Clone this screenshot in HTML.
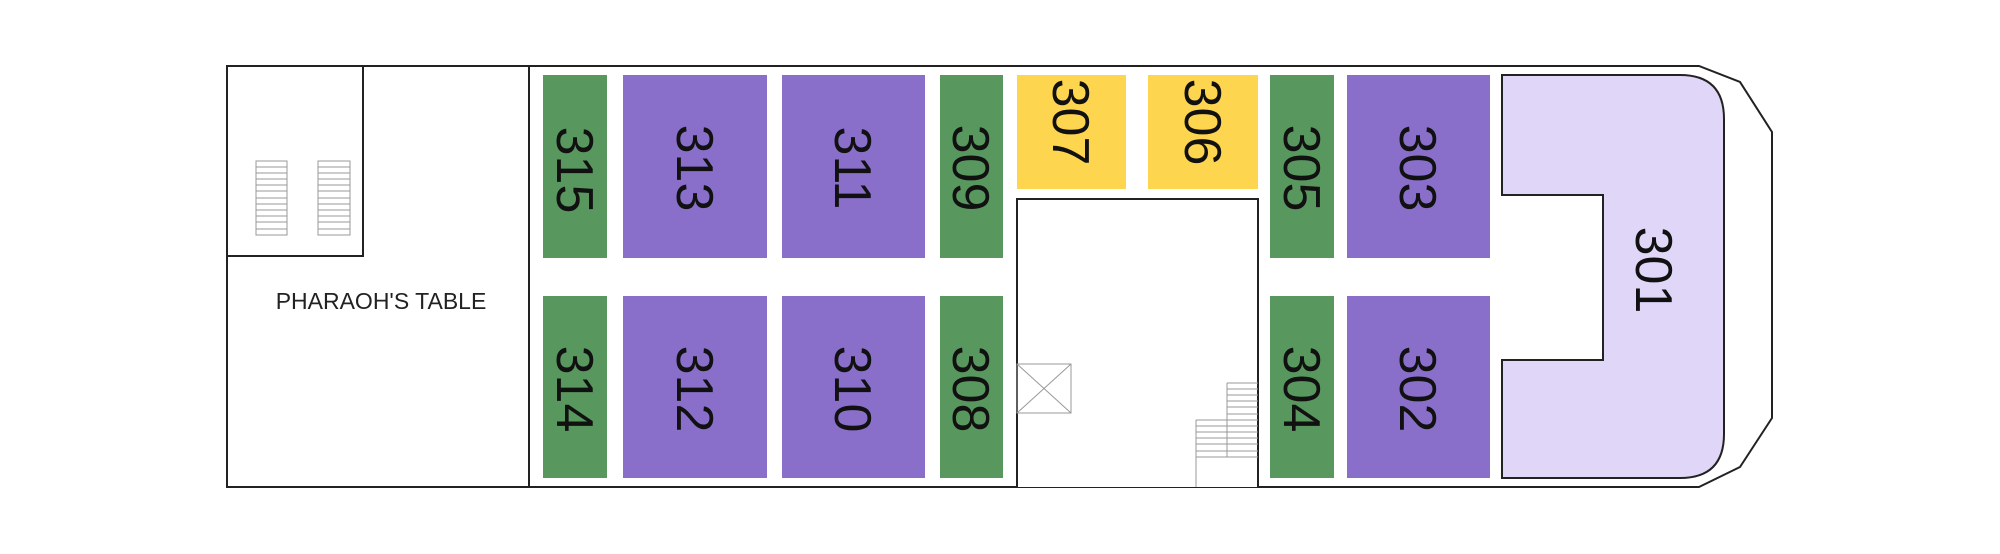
<!DOCTYPE html>
<html><head><meta charset="utf-8"><style>html,body{margin:0;padding:0;background:#fff}svg{display:block}</style></head>
<body>
<svg width="2000" height="554" viewBox="0 0 2000 554" xmlns="http://www.w3.org/2000/svg" font-family="Liberation Sans, sans-serif">
<rect width="2000" height="554" fill="#fff"/>
<path d="M227,66 H1699 L1740,82 L1772,132 V418 L1740,467 L1699,487 H227 Z" fill="#fff" stroke="#222" stroke-width="2"/>
<line x1="529" y1="66" x2="529" y2="487" stroke="#222" stroke-width="2"/>
<rect x="227" y="66" width="136" height="190" fill="none" stroke="#222" stroke-width="2"/>
<g stroke="#999" stroke-width="1" fill="none">
<rect x="256" y="161" width="31" height="74"/>
<rect x="318" y="161" width="32" height="74"/>
<path d="M256,167H287M256,173H287M256,179H287M256,185H287M256,191H287M256,198H287M256,204H287M256,210H287M256,216H287M256,222H287M256,229H287"/>
<path d="M318,167H350M318,173H350M318,179H350M318,185H350M318,191H350M318,198H350M318,204H350M318,210H350M318,216H350M318,222H350M318,229H350"/>
</g>
<text x="381" y="309" font-size="23" text-anchor="middle" fill="#222">PHARAOH'S TABLE</text>
<g>
<rect x="543" y="75" width="64" height="183" fill="#58975e"/>
<rect x="623" y="75" width="144" height="183" fill="#8a6fca"/>
<rect x="782" y="75" width="143" height="183" fill="#8a6fca"/>
<rect x="940" y="75" width="63" height="183" fill="#58975e"/>
<rect x="1017" y="75" width="109" height="114" fill="#fdd54e"/>
<rect x="1148" y="75" width="110" height="114" fill="#fdd54e"/>
<rect x="1270" y="75" width="64" height="183" fill="#58975e"/>
<rect x="1347" y="75" width="143" height="183" fill="#8a6fca"/>
<rect x="543" y="296" width="64" height="182" fill="#58975e"/>
<rect x="623" y="296" width="144" height="182" fill="#8a6fca"/>
<rect x="782" y="296" width="143" height="182" fill="#8a6fca"/>
<rect x="940" y="296" width="63" height="182" fill="#58975e"/>
<rect x="1270" y="296" width="64" height="182" fill="#58975e"/>
<rect x="1347" y="296" width="143" height="182" fill="#8a6fca"/>
</g>
<path d="M1017,487 V199 H1258 V487" fill="#fff" stroke="#222" stroke-width="2"/>
<g stroke="#999" stroke-width="1" fill="none">
<rect x="1017" y="364" width="54" height="49"/>
<path d="M1017,364L1071,413M1071,364L1017,413"/>
<path d="M1227,383H1258M1227,383V457M1196,420V487M1196,420H1258"/>
<path d="M1227,389H1258M1227,395H1258M1227,401H1258M1227,407H1258M1227,414H1258M1196,426H1258M1196,432H1258M1196,438H1258M1196,444H1258M1196,451H1258M1196,457H1258"/>
</g>
<path d="M1502,75 H1680 Q1724,75 1724,119 V434 Q1724,478 1680,478 H1502 V360 H1603 V195 H1502 Z" fill="#dfd6f8" stroke="#222" stroke-width="2"/>
<g font-size="52" fill="#111" text-anchor="middle">
<text transform="translate(575,170) rotate(90)" dy="18">315</text>
<text transform="translate(695,168) rotate(90)" dy="18">313</text>
<text transform="translate(853,168) rotate(90)" dy="18">311</text>
<text transform="translate(971,168) rotate(90)" dy="18">309</text>
<text transform="translate(1071,122) rotate(90)" dy="18">307</text>
<text transform="translate(1203,122) rotate(90)" dy="18">306</text>
<text transform="translate(1302,168) rotate(90)" dy="18">305</text>
<text transform="translate(1418,168) rotate(90)" dy="18">303</text>
<text transform="translate(575,389) rotate(90)" dy="18">314</text>
<text transform="translate(695,389) rotate(90)" dy="18">312</text>
<text transform="translate(853,389) rotate(90)" dy="18">310</text>
<text transform="translate(971,389) rotate(90)" dy="18">308</text>
<text transform="translate(1302,389) rotate(90)" dy="18">304</text>
<text transform="translate(1418,389) rotate(90)" dy="18">302</text>
<text transform="translate(1654,270) rotate(90)" dy="18">301</text>
</g>
</svg>
</body></html>
